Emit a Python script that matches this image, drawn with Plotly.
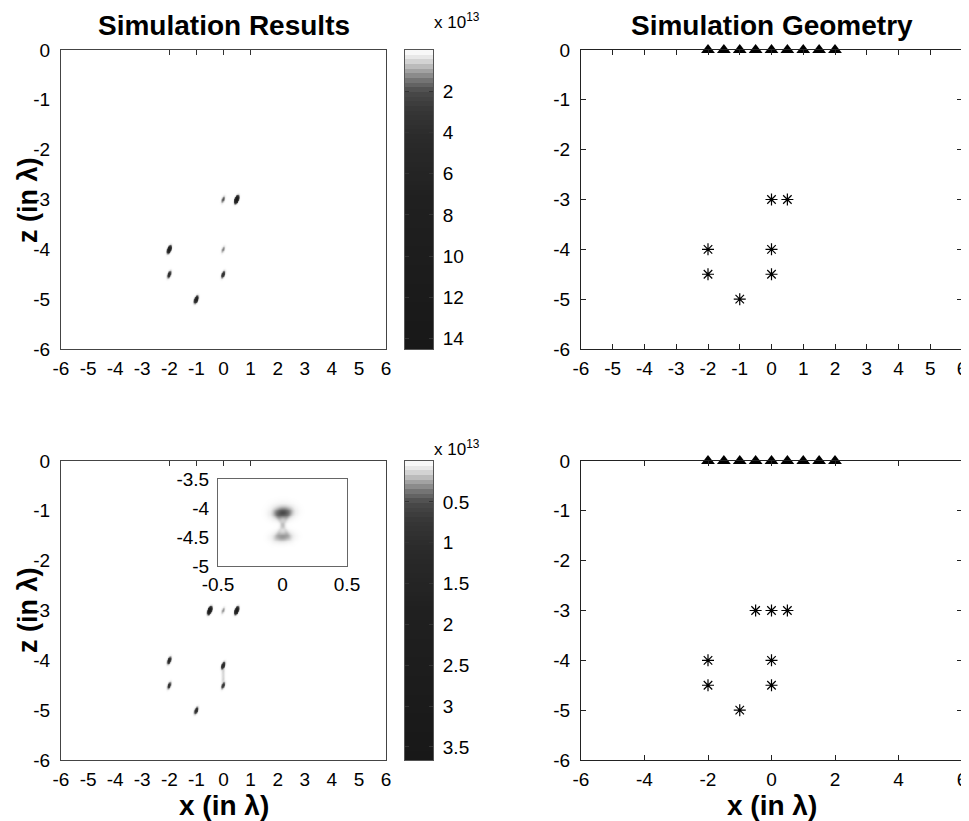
import numpy as np
import plotly.graph_objects as go

FONT = "Arial, 'Liberation Sans', sans-serif"
OFF = 8                      # page body margin of the html page
W, H = 969 - OFF, 821 - OFF

# ---------------- data ----------------
# Top "Simulation Results" image: bright spots (x, z, peak value in units of 1e13)
top_blob_x = [0.5, 0.0, -2.0, 0.0, -2.0, 0.0, -1.0]
top_blob_z = [-3.0, -3.0, -4.0, -4.0, -4.5, -4.5, -5.0]
top_blob_peak = [14.5, 2.0, 11.0, 1.4, 4.5, 4.0, 8.0]
top_cbar_max = 14.5
top_cbar_ticks = [2, 4, 6, 8, 10, 12, 14]

# Bottom "Simulation Results" image
bot_blob_x = [-0.5, 0.0, 0.5, -2.0, -2.0, 0.0, 0.0, 0.0, 0.0, 0.0, -1.0]
bot_blob_z = [-3.0, -3.0, -3.0, -4.0, -4.5, -4.1, -4.5, -4.22, -4.3, -4.38, -5.0]
bot_blob_peak = [3.6, 0.3, 3.0, 1.4, 0.9, 1.4, 0.8, 0.13, 0.11, 0.13, 1.1]
bot_cbar_max = 3.66
bot_cbar_ticks = [0.5, 1, 1.5, 2, 2.5, 3, 3.5]

# Inset (zoom of the spots at x=0, z=-4 .. -4.5)
inset_blob_x = [0.0, 0.0, 0.0, 0.0, 0.0]
inset_blob_z = [-4.09, -4.5, -4.3, -4.3, -4.05]
inset_blob_peak = [0.42, 0.28, 0.09, 0.09, 0.1]
inset_sig_along = [6.5, 6.5, 9.0, 9.0, 7.5]
inset_sig_across = [3.8, 3.6, 1.8, 1.8, 5.5]
inset_tilt = [84, 86, 28, -28, 90]

# Geometry panels
receivers_x = [-2.0, -1.5, -1.0, -0.5, 0.0, 0.5, 1.0, 1.5, 2.0]
receivers_z = [0, 0, 0, 0, 0, 0, 0, 0, 0]
top_scat_x = [0.0, 0.5, -2.0, 0.0, -2.0, 0.0, -1.0]
top_scat_z = [-3.0, -3.0, -4.0, -4.0, -4.5, -4.5, -5.0]
bot_scat_x = [-0.5, 0.0, 0.5, -2.0, 0.0, -2.0, 0.0, -1.0]
bot_scat_z = [-3.0, -3.0, -3.0, -4.0, -4.0, -4.5, -4.5, -5.0]

axis_ticks_1 = [-6, -5, -4, -3, -2, -1, 0, 1, 2, 3, 4, 5, 6]
axis_ticks_2 = [-6, -4, -2, 0, 2, 4, 6]
z_ticks = [-6, -5, -4, -3, -2, -1, 0]
inset_xticks = [-0.5, 0, 0.5]
inset_zticks = [-5, -4.5, -4, -3.5]

# ---------------- styling helpers ----------------
CS = [[0.0, '#ffffff'], [0.02, '#ededed'], [0.04, '#d2d2d2'], [0.07, '#a2a2a2'],
      [0.10, '#767676'], [0.14, '#4a4a4a'], [0.20, '#363636'], [0.30, '#2a2a2a'],
      [0.50, '#202020'], [1.0, '#181818']]


def lbl(vals):
    return [('%g' % v) for v in vals]   # ASCII hyphen minus like the original


def px(v):
    return (v - OFF) / W


def py(v):
    return 1 - (v - OFF) / H


def field(xs, zs, bx, bz, peaks, s_along, s_across, tilt, kx, kz):
    X, Z = np.meshgrid(xs, zs)
    F = np.zeros_like(X)
    for i in range(len(bx)):
        th = np.radians(tilt[i])
        dx = (X - bx[i]) * kx
        dz = (Z - bz[i]) * kz
        a = dx * np.sin(th) + dz * np.cos(th)
        c = dx * np.cos(th) - dz * np.sin(th)
        F += peaks[i] * np.exp(-0.5 * (a ** 2 / s_along[i] ** 2 + c ** 2 / s_across[i] ** 2))
    return np.round(F, 3)


KX = 325 / 12.0   # pixels per x unit in main panels
KZ = 299 / 6.0    # pixels per z unit in main panels


def main_field(bx, bz, peaks):
    xs = np.arange(min(bx) - 0.4, max(bx) + 0.4, 0.015)
    zs = np.arange(min(bz) - 0.4, max(bz) + 0.4, 0.008)
    n = len(bx)
    return xs, zs, field(xs, zs, bx, bz, peaks, [2.2] * n, [1.05] * n, [20] * n, KX, KZ)


fig = go.Figure()

# ---- heatmaps ----
for bx, bz, bp, zmax, xa, ya in [(top_blob_x, top_blob_z, top_blob_peak, top_cbar_max, 'x', 'y'),
                                 (bot_blob_x, bot_blob_z, bot_blob_peak, bot_cbar_max, 'x4', 'y4')]:
    xs, zs, F = main_field(bx, bz, bp)
    fig.add_trace(go.Heatmap(x=xs, y=zs, z=F, colorscale=CS, zmin=0, zmax=zmax,
                             showscale=False, zsmooth=False, hoverinfo='skip',
                             xaxis=xa, yaxis=ya))

# ---- colorbars (as narrow heatmaps) ----
for zmax, ax in [(top_cbar_max, '2'), (bot_cbar_max, '5')]:
    edges = np.linspace(0, zmax, 65)
    mids = (edges[:-1] + edges[1:]) / 2
    fig.add_trace(go.Heatmap(x=[0], y=mids, z=[[m] for m in mids], colorscale=CS,
                             zmin=0, zmax=zmax, showscale=False, hoverinfo='skip',
                             xaxis='x' + ax, yaxis='y' + ax))

# ---- inset ----
ixs = np.arange(-0.5, 0.5001, 0.004)
izs = np.arange(-5.0, -3.4999, 0.008)
IF = field(ixs, izs, inset_blob_x, inset_blob_z, inset_blob_peak,
           inset_sig_along, inset_sig_across, inset_tilt, 129.0, 87 / 1.5)
fig.add_trace(go.Heatmap(x=ixs, y=izs, z=IF, colorscale=CS, zmin=0, zmax=bot_cbar_max,
                         showscale=False, hoverinfo='skip', xaxis='x7', yaxis='y7'))

# ---- geometry panels ----
for sx, sz, ax in [(top_scat_x, top_scat_z, '3'), (bot_scat_x, bot_scat_z, '6')]:
    fig.add_trace(go.Scatter(x=receivers_x, y=receivers_z, mode='markers',
                             marker=dict(symbol='triangle-up', size=12, color='black'),
                             cliponaxis=False, hoverinfo='skip', xaxis='x' + ax, yaxis='y' + ax))
    fig.add_trace(go.Scatter(x=sx, y=sz, mode='markers',
                             marker=dict(symbol='asterisk-open', size=10, color='black',
                                         line=dict(color='black', width=1.2)),
                             cliponaxis=False, hoverinfo='skip', xaxis='x' + ax, yaxis='y' + ax))

# helper traces for top tick overlays on image panels
for ax, ya in [('8', 'y'), ('9', 'y4')]:
    fig.add_trace(go.Scatter(x=[], y=[], mode='markers', xaxis='x' + ax, yaxis=ya,
                             hoverinfo='skip', showlegend=False))

TF = dict(family=FONT, size=19, color='black')

left_x = [px(61), px(386)]
cb_x = [px(405), px(433)]
right_x = [px(581), px(962)]
top_y = [py(349), py(50)]
bot_y = [py(760), py(461)]

COMMON = dict(showgrid=False, zeroline=False, automargin=False)


def img_x(dom, anchor):
    return dict(domain=dom, anchor=anchor, range=[-6, 6], tickvals=axis_ticks_1,
                ticktext=lbl(axis_ticks_1), ticks='', showline=True, mirror=True,
                linecolor='#444', linewidth=1, tickfont=TF, ticklabelstandoff=2, **COMMON)


def img_y(dom, anchor):
    return dict(domain=dom, anchor=anchor, range=[-6, 0], tickvals=z_ticks, ticktext=lbl(z_ticks),
                ticks='', showline=True, mirror=True, linecolor='#444', linewidth=1,
                tickfont=TF, ticklabelstandoff=6, **COMMON)


def geo_x(dom, anchor, ticks):
    return dict(domain=dom, anchor=anchor, range=[-6, 6], tickvals=ticks, ticktext=lbl(ticks),
                ticks='inside', ticklen=5, tickcolor='#222', showline=True, mirror='ticks',
                linecolor='#222', linewidth=1, tickfont=TF, ticklabelstandoff=2, **COMMON)


def geo_y(dom, anchor):
    return dict(domain=dom, anchor=anchor, range=[-6, 0], tickvals=z_ticks, ticktext=lbl(z_ticks),
                ticks='inside', ticklen=5, tickcolor='#222', showline=True, mirror='ticks',
                linecolor='#222', linewidth=1, tickfont=TF, ticklabelstandoff=6, **COMMON)


def cb_xax(anchor):
    return dict(domain=cb_x, anchor=anchor, range=[-0.5, 0.5], showticklabels=False, ticks='',
                showline=True, mirror=True, linecolor='#555', linewidth=1, **COMMON)


def cb_yax(dom, anchor, zmax, ticks):
    return dict(domain=dom, anchor=anchor, range=[zmax, 0], side='right', tickvals=ticks,
                ticktext=lbl(ticks), ticks='inside', ticklen=4, tickcolor='#333', mirror='ticks',
                showline=True, linecolor='#555', linewidth=1, tickfont=TF,
                ticklabelstandoff=5, **COMMON)


def top_overlay(over, anchor):
    return dict(overlaying=over, anchor=anchor, side='top', range=[-6, 6],
                tickvals=[-2, -1, 0, 1], ticks='inside', ticklen=5, tickcolor='#333',
                showticklabels=False, showline=False, **COMMON)


annots = []
for txt, x, y in [("<b>Simulation Results</b>", 223.5, 25), ("<b>Simulation Geometry</b>", 771.5, 25),
                  ("<b>x (in λ)</b>", 223.5, 805), ("<b>x (in λ)</b>", 771.5, 805)]:
    annots.append(dict(text=txt, x=px(x), y=py(y), xref='paper', yref='paper', showarrow=False,
                       xanchor='center', yanchor='middle', font=dict(family=FONT, size=28, color='black')))
for yc in [200, 610]:
    annots.append(dict(text="<b>z (in λ)</b>", x=px(28), y=py(yc), xref='paper', yref='paper',
                       showarrow=False, textangle=-90, xanchor='center', yanchor='middle',
                       font=dict(family=FONT, size=27, color='black')))
for yt in [8.5, 435]:
    annots.append(dict(text="x 10<sup>13</sup>", x=px(432), y=py(yt), xref='paper', yref='paper',
                       showarrow=False, xanchor='left', yanchor='top',
                       font=dict(family=FONT, size=17, color='black')))

fig.update_layout(
    template='none',
    width=W, height=H, margin=dict(l=0, r=0, t=0, b=0, pad=0), autosize=False,
    paper_bgcolor='white', plot_bgcolor='white', showlegend=False,
    font=dict(family=FONT, color='black'),
    xaxis=img_x(left_x, 'y'), yaxis=img_y(top_y, 'x'),
    xaxis2=cb_xax('y2'), yaxis2=cb_yax(top_y, 'x2', top_cbar_max, top_cbar_ticks),
    xaxis3=geo_x(right_x, 'y3', axis_ticks_1), yaxis3=geo_y(top_y, 'x3'),
    xaxis4=img_x(left_x, 'y4'), yaxis4=img_y(bot_y, 'x4'),
    xaxis5=cb_xax('y5'), yaxis5=cb_yax(bot_y, 'x5', bot_cbar_max, bot_cbar_ticks),
    xaxis6=geo_x(right_x, 'y6', axis_ticks_2), yaxis6=geo_y(bot_y, 'x6'),
    xaxis7=dict(domain=[px(218), px(347)], anchor='y7', range=[-0.5, 0.5], tickvals=inset_xticks,
                ticktext=lbl(inset_xticks), ticks='', showline=True, mirror=True, linecolor='#666',
                linewidth=1, tickfont=TF, ticklabelstandoff=1, **COMMON),
    yaxis7=dict(domain=[py(566), py(479)], anchor='x7', range=[-5, -3.5], tickvals=inset_zticks,
                ticktext=lbl(inset_zticks), ticks='', showline=True, mirror=True, linecolor='#666',
                linewidth=1, tickfont=TF, ticklabelstandoff=4, **COMMON),
    xaxis8=top_overlay('x', 'y'),
    xaxis9=top_overlay('x4', 'y4'),
    annotations=annots,
)

fig.write_html("out.html")
